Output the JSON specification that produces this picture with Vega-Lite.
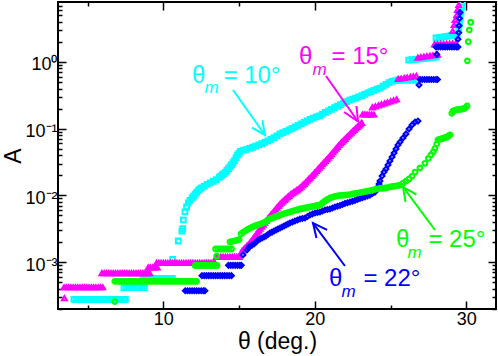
{
"$schema": "https://vega.github.io/schema/vega-lite/v6.json",
"width": 438, "height": 307,
"autosize": {"type": "none"},
"padding": {"left": 58, "top": 2, "right": 2, "bottom": 47},
"background": "white",
"config": {"view": {"stroke": "black", "strokeWidth": 2}, "font": "Liberation Sans",
 "axis": {"labelFont": "Liberation Sans", "titleFont": "Liberation Sans", "labelColor": "black", "titleColor": "black", "tickColor": "black", "grid": false, "domain": false, "labelOverlap": false, "titleFontWeight": "normal"}},
"datasets": {
"pts": [
{"series":"c","theta":4.1,"A":2.77e-4},{"series":"c","theta":4.25,"A":2.77e-4},{"series":"c","theta":4.4,"A":2.77e-4},{"series":"c","theta":4.55,"A":2.77e-4},{"series":"c","theta":4.7,"A":2.77e-4},{"series":"c","theta":4.85,"A":2.77e-4},{"series":"c","theta":5.0,"A":2.77e-4},{"series":"c","theta":5.15,"A":2.77e-4},{"series":"c","theta":5.3,"A":2.77e-4},{"series":"c","theta":5.45,"A":2.77e-4},{"series":"c","theta":5.6,"A":2.77e-4},{"series":"c","theta":5.75,"A":2.77e-4},{"series":"c","theta":5.9,"A":2.77e-4},{"series":"c","theta":6.05,"A":2.77e-4},{"series":"c","theta":6.2,"A":2.77e-4},{"series":"c","theta":6.35,"A":2.77e-4},{"series":"c","theta":6.5,"A":2.77e-4},{"series":"c","theta":6.65,"A":2.77e-4},{"series":"c","theta":6.8,"A":2.77e-4},{"series":"c","theta":6.95,"A":2.77e-4},{"series":"c","theta":7.1,"A":2.77e-4},{"series":"c","theta":7.25,"A":2.77e-4},{"series":"c","theta":7.4,"A":2.77e-4},{"series":"c","theta":7.5,"A":2.77e-4},
{"series":"c","theta":7.4,"A":4.13e-4},{"series":"c","theta":7.55,"A":4.13e-4},{"series":"c","theta":7.7,"A":4.13e-4},{"series":"c","theta":7.85,"A":4.13e-4},{"series":"c","theta":8.0,"A":4.13e-4},{"series":"c","theta":8.15,"A":4.13e-4},{"series":"c","theta":8.3,"A":4.13e-4},{"series":"c","theta":8.45,"A":4.13e-4},{"series":"c","theta":8.6,"A":4.13e-4},{"series":"c","theta":8.75,"A":4.13e-4},
{"series":"c","theta":8.65,"A":5.68e-4},{"series":"c","theta":8.8,"A":5.68e-4},{"series":"c","theta":8.95,"A":5.68e-4},{"series":"c","theta":9.1,"A":5.68e-4},{"series":"c","theta":9.25,"A":5.68e-4},{"series":"c","theta":9.4,"A":5.68e-4},{"series":"c","theta":9.55,"A":5.68e-4},{"series":"c","theta":9.7,"A":5.68e-4},{"series":"c","theta":9.85,"A":5.68e-4},{"series":"c","theta":10.0,"A":5.68e-4},{"series":"c","theta":10.15,"A":5.68e-4},{"series":"c","theta":10.3,"A":5.68e-4},{"series":"c","theta":10.45,"A":5.68e-4},{"series":"c","theta":10.6,"A":5.68e-4},
{"series":"c","theta":10.62,"A":1.10e-3},{"series":"c","theta":10.99,"A":2.07e-3},{"series":"c","theta":11.23,"A":2.92e-3},{"series":"c","theta":11.28,"A":3.17e-3},{"series":"c","theta":11.32,"A":4.28e-3},{"series":"c","theta":11.43,"A":5.64e-3},{"series":"c","theta":11.54,"A":6.70e-3},{"series":"c","theta":11.65,"A":7.69e-3},{"series":"c","theta":11.76,"A":8.39e-3},
{"series":"c","theta":11.9,"A":9.18e-3},{"series":"c","theta":12.0,"A":9.77e-3},{"series":"c","theta":12.1,"A":1.04e-2},{"series":"c","theta":12.2,"A":1.11e-2},{"series":"c","theta":12.3,"A":1.18e-2},{"series":"c","theta":12.4,"A":1.24e-2},{"series":"c","theta":12.5,"A":1.30e-2},{"series":"c","theta":12.7,"A":1.37e-2},{"series":"c","theta":12.9,"A":1.46e-2},{"series":"c","theta":13.1,"A":1.54e-2},{"series":"c","theta":13.3,"A":1.63e-2},{"series":"c","theta":13.5,"A":1.72e-2},{"series":"c","theta":13.7,"A":1.87e-2},{"series":"c","theta":13.8,"A":1.95e-2},{"series":"c","theta":13.9,"A":2.04e-2},{"series":"c","theta":14.0,"A":2.12e-2},{"series":"c","theta":14.1,"A":2.21e-2},{"series":"c","theta":14.2,"A":2.36e-2},{"series":"c","theta":14.3,"A":2.51e-2},{"series":"c","theta":14.4,"A":2.68e-2},{"series":"c","theta":14.5,"A":2.87e-2},{"series":"c","theta":14.6,"A":3.09e-2},{"series":"c","theta":14.7,"A":3.32e-2},{"series":"c","theta":14.8,"A":3.67e-2},{"series":"c","theta":14.9,"A":4.05e-2},{"series":"c","theta":15.0,"A":4.30e-2},{"series":"c","theta":15.1,"A":4.56e-2},{"series":"c","theta":15.3,"A":4.76e-2},{"series":"c","theta":15.5,"A":4.91e-2},{"series":"c","theta":15.7,"A":5.07e-2},{"series":"c","theta":15.9,"A":5.27e-2},{"series":"c","theta":16.1,"A":5.48e-2},{"series":"c","theta":16.3,"A":5.70e-2},{"series":"c","theta":16.5,"A":5.96e-2},{"series":"c","theta":16.7,"A":6.25e-2},{"series":"c","theta":16.9,"A":6.56e-2},{"series":"c","theta":17.1,"A":6.90e-2},{"series":"c","theta":17.3,"A":7.35e-2},{"series":"c","theta":17.5,"A":7.83e-2},{"series":"c","theta":17.7,"A":8.34e-2},{"series":"c","theta":17.9,"A":8.73e-2},{"series":"c","theta":18.1,"A":9.14e-2},{"series":"c","theta":18.3,"A":9.59e-2},{"series":"c","theta":18.5,"A":0.101},{"series":"c","theta":18.7,"A":0.106},{"series":"c","theta":18.9,"A":0.112},{"series":"c","theta":19.1,"A":0.118},{"series":"c","theta":19.3,"A":0.124},{"series":"c","theta":19.5,"A":0.131},{"series":"c","theta":19.7,"A":0.138},{"series":"c","theta":19.9,"A":0.144},{"series":"c","theta":20.1,"A":0.150},{"series":"c","theta":20.3,"A":0.156},{"series":"c","theta":20.5,"A":0.165},{"series":"c","theta":20.7,"A":0.175},{"series":"c","theta":20.9,"A":0.185},{"series":"c","theta":21.1,"A":0.195},{"series":"c","theta":21.3,"A":0.206},{"series":"c","theta":21.5,"A":0.217},{"series":"c","theta":21.7,"A":0.229},{"series":"c","theta":21.9,"A":0.241},{"series":"c","theta":22.1,"A":0.254},{"series":"c","theta":22.3,"A":0.268},{"series":"c","theta":22.5,"A":0.278},{"series":"c","theta":22.7,"A":0.288},{"series":"c","theta":22.9,"A":0.300},{"series":"c","theta":23.1,"A":0.313},{"series":"c","theta":23.3,"A":0.328},{"series":"c","theta":23.5,"A":0.344},{"series":"c","theta":23.7,"A":0.359},{"series":"c","theta":23.9,"A":0.375},{"series":"c","theta":24.1,"A":0.391},{"series":"c","theta":24.3,"A":0.407},{"series":"c","theta":24.5,"A":0.434},{"series":"c","theta":24.7,"A":0.462},{"series":"c","theta":24.9,"A":0.492},{"series":"c","theta":25.1,"A":0.512},{"series":"c","theta":25.3,"A":0.527},
{"series":"c","theta":25.5,"A":0.537},{"series":"c","theta":25.7,"A":0.537},{"series":"c","theta":25.9,"A":0.537},{"series":"c","theta":26.1,"A":0.537},{"series":"c","theta":26.3,"A":0.537},{"series":"c","theta":26.5,"A":0.537},{"series":"c","theta":26.7,"A":0.537},
{"series":"c","theta":26.2,"A":1.07},{"series":"c","theta":26.4,"A":1.08},{"series":"c","theta":26.6,"A":1.09},{"series":"c","theta":26.8,"A":1.10},{"series":"c","theta":27.0,"A":1.11},{"series":"c","theta":27.2,"A":1.12},{"series":"c","theta":27.4,"A":1.14},{"series":"c","theta":27.6,"A":1.15},{"series":"c","theta":27.8,"A":1.17},{"series":"c","theta":28.0,"A":1.18},
{"series":"c","theta":28.0,"A":2.29},{"series":"c","theta":28.2,"A":2.32},{"series":"c","theta":28.4,"A":2.36},{"series":"c","theta":28.6,"A":2.40},{"series":"c","theta":28.8,"A":2.44},{"series":"c","theta":29.0,"A":2.48},{"series":"c","theta":29.2,"A":2.51},{"series":"c","theta":29.4,"A":2.54},
{"series":"c","theta":29.5,"A":3.02},{"series":"c","theta":29.55,"A":3.72},{"series":"c","theta":29.6,"A":4.57},{"series":"c","theta":29.65,"A":5.62},{"series":"c","theta":29.7,"A":6.68},{"series":"c","theta":29.75,"A":7.67},

{"series":"m","theta":3.47,"A":2.87e-4},
{"series":"m","theta":3.45,"A":4.19e-4},{"series":"m","theta":3.6,"A":4.19e-4},{"series":"m","theta":3.75,"A":4.19e-4},{"series":"m","theta":3.9,"A":4.19e-4},{"series":"m","theta":4.05,"A":4.19e-4},{"series":"m","theta":4.2,"A":4.19e-4},{"series":"m","theta":4.35,"A":4.19e-4},{"series":"m","theta":4.5,"A":4.19e-4},{"series":"m","theta":4.65,"A":4.19e-4},{"series":"m","theta":4.8,"A":4.19e-4},{"series":"m","theta":4.95,"A":4.19e-4},{"series":"m","theta":5.1,"A":4.19e-4},{"series":"m","theta":5.25,"A":4.19e-4},{"series":"m","theta":5.4,"A":4.19e-4},{"series":"m","theta":5.55,"A":4.19e-4},{"series":"m","theta":5.7,"A":4.19e-4},{"series":"m","theta":5.85,"A":4.19e-4},{"series":"m","theta":6.0,"A":4.19e-4},
{"series":"m","theta":5.95,"A":6.85e-4},{"series":"m","theta":6.1,"A":6.85e-4},{"series":"m","theta":6.25,"A":6.85e-4},{"series":"m","theta":6.4,"A":6.85e-4},{"series":"m","theta":6.55,"A":6.85e-4},{"series":"m","theta":6.7,"A":6.85e-4},{"series":"m","theta":6.85,"A":6.85e-4},{"series":"m","theta":7.0,"A":6.85e-4},{"series":"m","theta":7.15,"A":6.85e-4},{"series":"m","theta":7.3,"A":6.85e-4},{"series":"m","theta":7.45,"A":6.85e-4},{"series":"m","theta":7.6,"A":6.85e-4},{"series":"m","theta":7.75,"A":6.85e-4},{"series":"m","theta":7.9,"A":6.85e-4},{"series":"m","theta":8.05,"A":6.85e-4},{"series":"m","theta":8.2,"A":6.85e-4},{"series":"m","theta":8.35,"A":6.85e-4},{"series":"m","theta":8.5,"A":6.85e-4},{"series":"m","theta":8.65,"A":6.85e-4},{"series":"m","theta":8.8,"A":6.85e-4},{"series":"m","theta":8.95,"A":6.85e-4},{"series":"m","theta":9.1,"A":6.85e-4},
{"series":"m","theta":9.0,"A":8.30e-4},{"series":"m","theta":9.15,"A":8.30e-4},{"series":"m","theta":9.3,"A":8.30e-4},{"series":"m","theta":9.45,"A":8.30e-4},{"series":"m","theta":9.6,"A":8.30e-4},
{"series":"m","theta":9.55,"A":9.70e-4},{"series":"m","theta":9.7,"A":9.70e-4},{"series":"m","theta":9.85,"A":9.70e-4},{"series":"m","theta":10.0,"A":9.70e-4},{"series":"m","theta":10.15,"A":9.70e-4},{"series":"m","theta":10.3,"A":9.70e-4},{"series":"m","theta":10.45,"A":9.70e-4},{"series":"m","theta":10.6,"A":9.70e-4},{"series":"m","theta":10.75,"A":9.70e-4},{"series":"m","theta":10.9,"A":9.70e-4},{"series":"m","theta":11.05,"A":9.70e-4},{"series":"m","theta":11.2,"A":9.70e-4},{"series":"m","theta":11.35,"A":9.70e-4},{"series":"m","theta":11.5,"A":9.70e-4},{"series":"m","theta":11.65,"A":9.70e-4},{"series":"m","theta":11.8,"A":9.70e-4},{"series":"m","theta":11.95,"A":9.70e-4},{"series":"m","theta":12.1,"A":9.70e-4},{"series":"m","theta":12.25,"A":9.70e-4},{"series":"m","theta":12.4,"A":9.70e-4},{"series":"m","theta":12.55,"A":9.70e-4},{"series":"m","theta":12.7,"A":9.70e-4},{"series":"m","theta":12.85,"A":9.70e-4},{"series":"m","theta":13.0,"A":9.70e-4},{"series":"m","theta":13.15,"A":9.70e-4},{"series":"m","theta":13.3,"A":9.70e-4},{"series":"m","theta":13.4,"A":9.70e-4},
{"series":"m","theta":13.5,"A":1.20e-3},{"series":"m","theta":13.65,"A":1.20e-3},{"series":"m","theta":13.8,"A":1.20e-3},{"series":"m","theta":13.95,"A":1.20e-3},{"series":"m","theta":14.1,"A":1.20e-3},{"series":"m","theta":14.25,"A":1.20e-3},{"series":"m","theta":14.4,"A":1.20e-3},{"series":"m","theta":14.55,"A":1.20e-3},{"series":"m","theta":14.7,"A":1.20e-3},{"series":"m","theta":14.85,"A":1.20e-3},{"series":"m","theta":15.0,"A":1.20e-3},
{"series":"m","theta":15.2,"A":1.47e-3},{"series":"m","theta":15.3,"A":1.55e-3},{"series":"m","theta":15.4,"A":1.63e-3},{"series":"m","theta":15.5,"A":1.72e-3},{"series":"m","theta":15.6,"A":1.81e-3},{"series":"m","theta":15.7,"A":1.93e-3},{"series":"m","theta":15.8,"A":2.05e-3},{"series":"m","theta":15.9,"A":2.20e-3},{"series":"m","theta":16.0,"A":2.37e-3},{"series":"m","theta":16.1,"A":2.55e-3},{"series":"m","theta":16.2,"A":2.75e-3},{"series":"m","theta":16.3,"A":2.96e-3},{"series":"m","theta":16.4,"A":3.18e-3},{"series":"m","theta":16.5,"A":3.40e-3},{"series":"m","theta":16.6,"A":3.64e-3},{"series":"m","theta":16.7,"A":3.90e-3},{"series":"m","theta":16.8,"A":4.17e-3},{"series":"m","theta":16.9,"A":4.46e-3},{"series":"m","theta":17.0,"A":4.78e-3},{"series":"m","theta":17.1,"A":5.09e-3},{"series":"m","theta":17.2,"A":5.43e-3},{"series":"m","theta":17.3,"A":5.78e-3},{"series":"m","theta":17.4,"A":6.15e-3},{"series":"m","theta":17.5,"A":6.55e-3},{"series":"m","theta":17.6,"A":6.98e-3},{"series":"m","theta":17.7,"A":7.37e-3},{"series":"m","theta":17.8,"A":7.78e-3},{"series":"m","theta":17.9,"A":8.16e-3},{"series":"m","theta":18.0,"A":8.55e-3},{"series":"m","theta":18.1,"A":8.96e-3},{"series":"m","theta":18.2,"A":9.40e-3},{"series":"m","theta":18.3,"A":9.84e-3},{"series":"m","theta":18.4,"A":1.03e-2},{"series":"m","theta":18.5,"A":1.07e-2},{"series":"m","theta":18.6,"A":1.11e-2},{"series":"m","theta":18.7,"A":1.15e-2},{"series":"m","theta":18.8,"A":1.19e-2},{"series":"m","theta":18.9,"A":1.23e-2},{"series":"m","theta":19.0,"A":1.28e-2},{"series":"m","theta":19.1,"A":1.35e-2},{"series":"m","theta":19.2,"A":1.42e-2},{"series":"m","theta":19.3,"A":1.49e-2},{"series":"m","theta":19.4,"A":1.57e-2},{"series":"m","theta":19.5,"A":1.66e-2},{"series":"m","theta":19.6,"A":1.75e-2},{"series":"m","theta":19.7,"A":1.85e-2},{"series":"m","theta":19.8,"A":1.95e-2},{"series":"m","theta":19.9,"A":2.07e-2},{"series":"m","theta":20.0,"A":2.19e-2},{"series":"m","theta":20.1,"A":2.32e-2},{"series":"m","theta":20.2,"A":2.46e-2},{"series":"m","theta":20.3,"A":2.61e-2},{"series":"m","theta":20.4,"A":2.76e-2},{"series":"m","theta":20.5,"A":2.93e-2},{"series":"m","theta":20.6,"A":3.10e-2},{"series":"m","theta":20.7,"A":3.28e-2},{"series":"m","theta":20.8,"A":3.48e-2},{"series":"m","theta":20.9,"A":3.68e-2},{"series":"m","theta":21.0,"A":3.90e-2},{"series":"m","theta":21.1,"A":4.16e-2},{"series":"m","theta":21.2,"A":4.43e-2},{"series":"m","theta":21.3,"A":4.71e-2},{"series":"m","theta":21.4,"A":5.01e-2},{"series":"m","theta":21.5,"A":5.34e-2},{"series":"m","theta":21.6,"A":5.69e-2},{"series":"m","theta":21.7,"A":6.01e-2},{"series":"m","theta":21.8,"A":6.35e-2},{"series":"m","theta":21.9,"A":6.69e-2},{"series":"m","theta":22.0,"A":7.05e-2},{"series":"m","theta":22.1,"A":7.43e-2},{"series":"m","theta":22.2,"A":7.83e-2},{"series":"m","theta":22.3,"A":8.25e-2},{"series":"m","theta":22.4,"A":8.69e-2},{"series":"m","theta":22.5,"A":9.14e-2},{"series":"m","theta":22.6,"A":9.62e-2},{"series":"m","theta":22.7,"A":0.101},{"series":"m","theta":22.8,"A":0.106},{"series":"m","theta":22.9,"A":0.111},{"series":"m","theta":23.0,"A":0.116},{"series":"m","theta":23.1,"A":0.122},
{"series":"m","theta":23.15,"A":0.163},{"series":"m","theta":23.3,"A":0.163},{"series":"m","theta":23.45,"A":0.163},{"series":"m","theta":23.6,"A":0.163},{"series":"m","theta":23.75,"A":0.163},{"series":"m","theta":23.9,"A":0.163},
{"series":"m","theta":23.8,"A":0.209},{"series":"m","theta":24.0,"A":0.216},{"series":"m","theta":24.2,"A":0.223},{"series":"m","theta":24.4,"A":0.231},{"series":"m","theta":24.6,"A":0.239},{"series":"m","theta":24.8,"A":0.248},{"series":"m","theta":25.0,"A":0.256},{"series":"m","theta":25.2,"A":0.265},{"series":"m","theta":25.4,"A":0.275},
{"series":"m","theta":25.5,"A":0.556},{"series":"m","theta":25.7,"A":0.565},{"series":"m","theta":25.9,"A":0.575},{"series":"m","theta":26.1,"A":0.585},{"series":"m","theta":26.3,"A":0.596},{"series":"m","theta":26.5,"A":0.606},{"series":"m","theta":26.7,"A":0.617},
{"series":"m","theta":26.8,"A":1.16},{"series":"m","theta":27.0,"A":1.18},{"series":"m","theta":27.2,"A":1.20},{"series":"m","theta":27.4,"A":1.22},{"series":"m","theta":27.6,"A":1.24},{"series":"m","theta":27.8,"A":1.26},{"series":"m","theta":28.0,"A":1.28},{"series":"m","theta":28.1,"A":1.29},
{"series":"m","theta":27.9,"A":1.84},{"series":"m","theta":28.1,"A":1.85},{"series":"m","theta":28.3,"A":1.86},{"series":"m","theta":28.5,"A":1.86},{"series":"m","theta":28.7,"A":1.87},{"series":"m","theta":28.9,"A":1.88},{"series":"m","theta":29.1,"A":1.89},{"series":"m","theta":29.3,"A":1.90},
{"series":"m","theta":29.10,"A":2.92},{"series":"m","theta":29.19,"A":3.59},{"series":"m","theta":29.26,"A":4.27},{"series":"m","theta":29.37,"A":5.07},{"series":"m","theta":29.41,"A":6.03},{"series":"m","theta":29.50,"A":7.16},

{"series":"b","theta":11.45,"A":3.72e-4},{"series":"b","theta":11.6,"A":3.72e-4},{"series":"b","theta":11.75,"A":3.72e-4},{"series":"b","theta":11.9,"A":3.72e-4},{"series":"b","theta":12.05,"A":3.72e-4},{"series":"b","theta":12.2,"A":3.72e-4},{"series":"b","theta":12.35,"A":3.72e-4},{"series":"b","theta":12.5,"A":3.72e-4},{"series":"b","theta":12.65,"A":3.72e-4},{"series":"b","theta":12.75,"A":3.72e-4},
{"series":"b","theta":12.55,"A":6.25e-4},{"series":"b","theta":12.7,"A":6.25e-4},{"series":"b","theta":12.85,"A":6.25e-4},{"series":"b","theta":13.0,"A":6.25e-4},{"series":"b","theta":13.15,"A":6.25e-4},{"series":"b","theta":13.3,"A":6.25e-4},{"series":"b","theta":13.45,"A":6.25e-4},{"series":"b","theta":13.6,"A":6.25e-4},{"series":"b","theta":13.75,"A":6.25e-4},{"series":"b","theta":13.9,"A":6.25e-4},{"series":"b","theta":14.05,"A":6.25e-4},{"series":"b","theta":14.2,"A":6.25e-4},{"series":"b","theta":14.35,"A":6.25e-4},{"series":"b","theta":14.5,"A":6.25e-4},
{"series":"b","theta":14.3,"A":8.95e-4},{"series":"b","theta":14.45,"A":8.95e-4},{"series":"b","theta":14.6,"A":8.95e-4},{"series":"b","theta":14.75,"A":8.95e-4},{"series":"b","theta":14.9,"A":8.95e-4},{"series":"b","theta":15.05,"A":8.95e-4},{"series":"b","theta":15.15,"A":8.95e-4},
{"series":"b","theta":15.26,"A":1.28e-3},{"series":"b","theta":15.52,"A":1.52e-3},{"series":"b","theta":15.62,"A":1.63e-3},{"series":"b","theta":15.72,"A":1.74e-3},{"series":"b","theta":15.855,"A":1.80e-3},{"series":"b","theta":15.99,"A":1.87e-3},{"series":"b","theta":16.12,"A":2.00e-3},{"series":"b","theta":16.25,"A":2.14e-3},{"series":"b","theta":16.385,"A":2.22e-3},{"series":"b","theta":16.52,"A":2.30e-3},{"series":"b","theta":16.65,"A":2.38e-3},{"series":"b","theta":16.78,"A":2.46e-3},{"series":"b","theta":16.91,"A":2.59e-3},{"series":"b","theta":17.04,"A":2.73e-3},{"series":"b","theta":17.175,"A":2.82e-3},{"series":"b","theta":17.31,"A":2.92e-3},{"series":"b","theta":17.44,"A":3.03e-3},{"series":"b","theta":17.57,"A":3.13e-3},{"series":"b","theta":17.705,"A":3.24e-3},{"series":"b","theta":17.84,"A":3.36e-3},{"series":"b","theta":17.97,"A":3.48e-3},{"series":"b","theta":18.10,"A":3.60e-3},{"series":"b","theta":18.23,"A":3.72e-3},{"series":"b","theta":18.36,"A":3.85e-3},{"series":"b","theta":18.525,"A":3.99e-3},{"series":"b","theta":18.69,"A":4.13e-3},{"series":"b","theta":18.855,"A":4.28e-3},{"series":"b","theta":19.02,"A":4.43e-3},{"series":"b","theta":19.185,"A":4.50e-3},{"series":"b","theta":19.35,"A":4.58e-3},{"series":"b","theta":19.515,"A":4.82e-3},{"series":"b","theta":19.68,"A":5.08e-3},{"series":"b","theta":19.845,"A":5.26e-3},{"series":"b","theta":20.01,"A":5.45e-3},{"series":"b","theta":20.175,"A":5.54e-3},{"series":"b","theta":20.34,"A":5.64e-3},{"series":"b","theta":20.505,"A":5.83e-3},{"series":"b","theta":20.67,"A":6.04e-3},{"series":"b","theta":20.835,"A":6.14e-3},{"series":"b","theta":21.00,"A":6.25e-3},{"series":"b","theta":21.165,"A":6.47e-3},{"series":"b","theta":21.33,"A":6.70e-3},{"series":"b","theta":21.495,"A":6.88e-3},{"series":"b","theta":21.66,"A":7.06e-3},{"series":"b","theta":21.825,"A":7.31e-3},{"series":"b","theta":21.99,"A":7.57e-3},{"series":"b","theta":22.155,"A":7.76e-3},{"series":"b","theta":22.32,"A":7.96e-3},{"series":"b","theta":22.485,"A":8.17e-3},{"series":"b","theta":22.65,"A":8.39e-3},{"series":"b","theta":22.815,"A":8.69e-3},{"series":"b","theta":22.98,"A":8.99e-3},{"series":"b","theta":23.145,"A":9.23e-3},{"series":"b","theta":23.31,"A":9.46e-3},{"series":"b","theta":23.475,"A":9.79e-3},{"series":"b","theta":23.64,"A":1.01e-2},{"series":"b","theta":23.805,"A":1.07e-2},{"series":"b","theta":23.97,"A":1.12e-2},{"series":"b","theta":24.07,"A":1.23e-2},{"series":"b","theta":24.17,"A":1.34e-2},{"series":"b","theta":24.24,"A":1.48e-2},{"series":"b","theta":24.30,"A":1.64e-2},{"series":"b","theta":24.44,"A":1.95e-2},{"series":"b","theta":24.57,"A":2.24e-2},{"series":"b","theta":24.70,"A":2.49e-2},{"series":"b","theta":24.83,"A":2.86e-2},{"series":"b","theta":24.96,"A":3.28e-2},{"series":"b","theta":25.10,"A":3.77e-2},{"series":"b","theta":25.23,"A":4.32e-2},{"series":"b","theta":25.36,"A":4.97e-2},{"series":"b","theta":25.49,"A":5.70e-2},{"series":"b","theta":25.63,"A":6.32e-2},{"series":"b","theta":25.82,"A":7.26e-2},{"series":"b","theta":26.02,"A":8.34e-2},{"series":"b","theta":26.22,"A":9.90e-2},{"series":"b","theta":26.42,"A":0.114},{"series":"b","theta":26.62,"A":0.126},{"series":"b","theta":26.81,"A":0.130},
{"series":"b","theta":26.88,"A":0.452},
{"series":"b","theta":26.95,"A":0.547},{"series":"b","theta":27.1,"A":0.547},{"series":"b","theta":27.25,"A":0.547},{"series":"b","theta":27.4,"A":0.547},{"series":"b","theta":27.55,"A":0.547},{"series":"b","theta":27.7,"A":0.547},{"series":"b","theta":27.85,"A":0.547},{"series":"b","theta":28.0,"A":0.547},{"series":"b","theta":28.1,"A":0.547},
{"series":"b","theta":28.05,"A":1.30},
{"series":"b","theta":28.0,"A":1.68},{"series":"b","theta":28.15,"A":1.68},{"series":"b","theta":28.3,"A":1.68},{"series":"b","theta":28.45,"A":1.68},{"series":"b","theta":28.6,"A":1.68},{"series":"b","theta":28.75,"A":1.68},{"series":"b","theta":28.9,"A":1.68},{"series":"b","theta":29.05,"A":1.68},{"series":"b","theta":29.2,"A":1.68},{"series":"b","theta":29.35,"A":1.68},{"series":"b","theta":29.45,"A":1.68},
{"series":"b","theta":29.45,"A":2.2},{"series":"b","theta":29.5,"A":2.75},{"series":"b","theta":29.52,"A":3.5},{"series":"b","theta":29.55,"A":4.5},{"series":"b","theta":29.58,"A":5.5},

{"series":"g","theta":6.80,"A":2.55e-4},
{"series":"g","theta":6.8,"A":5.15e-4},{"series":"g","theta":6.95,"A":5.15e-4},{"series":"g","theta":7.1,"A":5.15e-4},{"series":"g","theta":7.25,"A":5.15e-4},{"series":"g","theta":7.4,"A":5.15e-4},{"series":"g","theta":7.55,"A":5.15e-4},{"series":"g","theta":7.7,"A":5.15e-4},{"series":"g","theta":7.85,"A":5.15e-4},{"series":"g","theta":8.0,"A":5.15e-4},{"series":"g","theta":8.15,"A":5.15e-4},{"series":"g","theta":8.3,"A":5.15e-4},{"series":"g","theta":8.45,"A":5.15e-4},{"series":"g","theta":8.6,"A":5.15e-4},{"series":"g","theta":8.75,"A":5.15e-4},{"series":"g","theta":8.9,"A":5.15e-4},{"series":"g","theta":9.05,"A":5.15e-4},{"series":"g","theta":9.2,"A":5.15e-4},{"series":"g","theta":9.35,"A":5.15e-4},{"series":"g","theta":9.5,"A":5.15e-4},{"series":"g","theta":9.65,"A":5.15e-4},{"series":"g","theta":9.8,"A":5.15e-4},{"series":"g","theta":9.95,"A":5.15e-4},{"series":"g","theta":10.1,"A":5.15e-4},{"series":"g","theta":10.25,"A":5.15e-4},{"series":"g","theta":10.4,"A":5.15e-4},{"series":"g","theta":10.55,"A":5.15e-4},{"series":"g","theta":10.7,"A":5.15e-4},{"series":"g","theta":10.85,"A":5.15e-4},{"series":"g","theta":11.0,"A":5.15e-4},{"series":"g","theta":11.15,"A":5.15e-4},{"series":"g","theta":11.3,"A":5.15e-4},{"series":"g","theta":11.45,"A":5.15e-4},{"series":"g","theta":11.6,"A":5.15e-4},{"series":"g","theta":11.75,"A":5.15e-4},{"series":"g","theta":11.9,"A":5.15e-4},{"series":"g","theta":12.05,"A":5.15e-4},{"series":"g","theta":12.2,"A":5.15e-4},
{"series":"g","theta":12.1,"A":8.89e-4},{"series":"g","theta":12.25,"A":8.89e-4},{"series":"g","theta":12.4,"A":8.89e-4},{"series":"g","theta":12.55,"A":8.89e-4},{"series":"g","theta":12.7,"A":8.89e-4},{"series":"g","theta":12.85,"A":8.89e-4},{"series":"g","theta":13.0,"A":8.89e-4},{"series":"g","theta":13.15,"A":8.89e-4},{"series":"g","theta":13.3,"A":8.89e-4},{"series":"g","theta":13.45,"A":8.89e-4},{"series":"g","theta":13.55,"A":8.89e-4},
{"series":"g","theta":13.52,"A":1.23e-3},
{"series":"g","theta":13.45,"A":1.57e-3},{"series":"g","theta":13.6,"A":1.57e-3},{"series":"g","theta":13.75,"A":1.57e-3},{"series":"g","theta":13.9,"A":1.57e-3},{"series":"g","theta":14.05,"A":1.57e-3},{"series":"g","theta":14.2,"A":1.57e-3},{"series":"g","theta":14.35,"A":1.57e-3},{"series":"g","theta":14.5,"A":1.57e-3},
{"series":"g","theta":14.4,"A":2.00e-3},{"series":"g","theta":14.55,"A":2.04e-3},{"series":"g","theta":14.7,"A":2.08e-3},{"series":"g","theta":14.85,"A":2.13e-3},{"series":"g","theta":15.0,"A":2.17e-3},
{"series":"g","theta":15.13,"A":2.64e-3},{"series":"g","theta":15.26,"A":2.78e-3},{"series":"g","theta":15.39,"A":2.92e-3},{"series":"g","theta":15.555,"A":3.08e-3},{"series":"g","theta":15.72,"A":3.24e-3},{"series":"g","theta":15.885,"A":3.36e-3},{"series":"g","theta":16.05,"A":3.48e-3},{"series":"g","theta":16.215,"A":3.60e-3},{"series":"g","theta":16.38,"A":3.72e-3},{"series":"g","theta":16.545,"A":3.85e-3},{"series":"g","theta":16.71,"A":3.99e-3},{"series":"g","theta":16.875,"A":4.20e-3},{"series":"g","theta":17.04,"A":4.43e-3},{"series":"g","theta":17.205,"A":4.58e-3},{"series":"g","theta":17.37,"A":4.74e-3},{"series":"g","theta":17.535,"A":4.91e-3},{"series":"g","theta":17.70,"A":5.08e-3},{"series":"g","theta":17.865,"A":5.22e-3},{"series":"g","theta":18.03,"A":5.36e-3},{"series":"g","theta":18.195,"A":5.50e-3},{"series":"g","theta":18.36,"A":5.64e-3},{"series":"g","theta":18.525,"A":5.79e-3},{"series":"g","theta":18.69,"A":5.94e-3},{"series":"g","theta":18.855,"A":6.09e-3},{"series":"g","theta":19.02,"A":6.25e-3},{"series":"g","theta":19.185,"A":6.36e-3},{"series":"g","theta":19.35,"A":6.47e-3},{"series":"g","theta":19.515,"A":6.58e-3},{"series":"g","theta":19.68,"A":6.70e-3},{"series":"g","theta":19.845,"A":6.81e-3},{"series":"g","theta":20.01,"A":6.93e-3},{"series":"g","theta":20.175,"A":7.05e-3},{"series":"g","theta":20.34,"A":7.18e-3},{"series":"g","theta":20.505,"A":7.69e-3},{"series":"g","theta":20.67,"A":8.24e-3},{"series":"g","theta":20.835,"A":8.68e-3},{"series":"g","theta":21.00,"A":9.14e-3},{"series":"g","theta":21.165,"A":9.39e-3},{"series":"g","theta":21.33,"A":9.64e-3},{"series":"g","theta":21.495,"A":9.81e-3},{"series":"g","theta":21.66,"A":9.98e-3},{"series":"g","theta":21.825,"A":1.005e-2},{"series":"g","theta":21.99,"A":1.01e-2},{"series":"g","theta":22.155,"A":1.02e-2},{"series":"g","theta":22.32,"A":1.03e-2},{"series":"g","theta":22.485,"A":1.05e-2},{"series":"g","theta":22.65,"A":1.07e-2},{"series":"g","theta":22.815,"A":1.085e-2},{"series":"g","theta":22.98,"A":1.10e-2},{"series":"g","theta":23.145,"A":1.12e-2},{"series":"g","theta":23.31,"A":1.14e-2},{"series":"g","theta":23.475,"A":1.16e-2},{"series":"g","theta":23.64,"A":1.18e-2},{"series":"g","theta":23.805,"A":1.20e-2},{"series":"g","theta":23.97,"A":1.23e-2},{"series":"g","theta":24.135,"A":1.25e-2},{"series":"g","theta":24.30,"A":1.27e-2},{"series":"g","theta":24.465,"A":1.28e-2},{"series":"g","theta":24.63,"A":1.29e-2},{"series":"g","theta":24.795,"A":1.31e-2},{"series":"g","theta":24.96,"A":1.34e-2},{"series":"g","theta":25.13,"A":1.36e-2},{"series":"g","theta":25.30,"A":1.38e-2},{"series":"g","theta":25.465,"A":1.40e-2},{"series":"g","theta":25.63,"A":1.43e-2},{"series":"g","theta":25.82,"A":1.53e-2},{"series":"g","theta":26.02,"A":1.64e-2},{"series":"g","theta":26.22,"A":1.76e-2},{"series":"g","theta":26.42,"A":1.95e-2},{"series":"g","theta":26.62,"A":2.24e-2},
{"series":"g","theta":26.94,"A":2.58e-2},{"series":"g","theta":27.27,"A":3.03e-2},{"series":"g","theta":27.49,"A":3.60e-2},{"series":"g","theta":27.67,"A":4.04e-2},{"series":"g","theta":27.82,"A":4.48e-2},{"series":"g","theta":27.93,"A":5.08e-2},{"series":"g","theta":28.05,"A":5.90e-2},
{"series":"g","theta":28.13,"A":6.78e-2},{"series":"g","theta":28.23,"A":6.90e-2},{"series":"g","theta":28.33,"A":7.01e-2},{"series":"g","theta":28.43,"A":7.13e-2},{"series":"g","theta":28.53,"A":7.26e-2},{"series":"g","theta":28.63,"A":7.38e-2},{"series":"g","theta":28.73,"A":7.51e-2},{"series":"g","theta":28.83,"A":7.78e-2},{"series":"g","theta":28.92,"A":8.05e-2},
{"series":"g","theta":29.04,"A":0.170},
{"series":"g","theta":29.12,"A":0.184},{"series":"g","theta":29.22,"A":0.188},{"series":"g","theta":29.32,"A":0.191},{"series":"g","theta":29.42,"A":0.193},{"series":"g","theta":29.52,"A":0.194},{"series":"g","theta":29.62,"A":0.196},{"series":"g","theta":29.72,"A":0.197},{"series":"g","theta":29.82,"A":0.200},{"series":"g","theta":29.92,"A":0.204},{"series":"g","theta":30.05,"A":0.219},
{"series":"g","theta":30.07,"A":1.04},{"series":"g","theta":30.13,"A":2.01},{"series":"g","theta":30.20,"A":3.02},{"series":"g","theta":30.29,"A":3.94}
],
"labels": [
{"theta":11.89,"A":0.484,"label":"θ","series":"c"},{"theta":13.97,"A":0.484,"label":"= 10°","series":"c"},
{"theta":18.96,"A":0.933,"label":"θ","series":"m"},{"theta":21.10,"A":0.933,"label":"= 15°","series":"m"},
{"theta":20.94,"A":4.31e-4,"label":"θ","series":"b"},{"theta":23.21,"A":4.31e-4,"label":"= 22°","series":"b"},
{"theta":25.36,"A":1.66e-3,"label":"θ","series":"g"},{"theta":27.50,"A":1.66e-3,"label":"= 25°","series":"g"}
],
"subs": [
{"theta":12.72,"A":0.343,"label":"m","series":"c"},
{"theta":19.85,"A":0.638,"label":"m","series":"m"},
{"theta":21.76,"A":3.00e-4,"label":"m","series":"b"},
{"theta":26.12,"A":1.15e-3,"label":"m","series":"g"}
],
"shafts": [
{"series":"c","theta":14.60,"A":0.380,"theta2":16.71,"A2":8.05e-2},
{"series":"m","theta":20.74,"A":0.617,"theta2":22.85,"A2":0.128},
{"series":"b","theta":21.99,"A":8.74e-4,"theta2":19.88,"A2":3.85e-3},
{"series":"g","theta":27.93,"A":3.03e-3,"theta2":25.82,"A2":1.34e-2}
],
"heads": [
{"arrow":"c","k":1,"series":"c","theta":15.85,"A":0.104},{"arrow":"c","k":2,"series":"c","theta":16.71,"A":8.05e-2},{"arrow":"c","k":3,"series":"c","theta":16.54,"A":0.134},
{"arrow":"m","k":1,"series":"m","theta":21.93,"A":0.178},{"arrow":"m","k":2,"series":"m","theta":22.85,"A":0.128},{"arrow":"m","k":3,"series":"m","theta":22.75,"A":0.219},
{"arrow":"b","k":1,"series":"b","theta":20.11,"A":2.30e-3},{"arrow":"b","k":2,"series":"b","theta":19.88,"A":3.85e-3},{"arrow":"b","k":3,"series":"b","theta":20.81,"A":3.03e-3},
{"arrow":"g","k":1,"series":"g","theta":25.99,"A":7.96e-3},{"arrow":"g","k":2,"series":"g","theta":25.82,"A":1.34e-2},{"arrow":"g","k":3,"series":"g","theta":26.71,"A":1.03e-2}
]
},
"layer": [
{
"data": {"name": "pts"},
"mark": {"type": "point", "filled": false, "strokeWidth": 2.1, "size": 22, "clip": true, "opacity": 1},
"encoding": {
"x": {"field": "theta", "type": "quantitative", "scale": {"domain": [3.05, 31.96], "nice": false, "zero": false},
 "axis": {"orient": "bottom", "values": [10, 20, 30], "tickSize": -8, "tickWidth": 1.5, "labelFontSize": 18, "labelPadding": 9, "title": "θ (deg.)", "titleFontSize": 23, "titlePadding": 2}},
"y": {"field": "A", "type": "quantitative", "scale": {"type": "log", "domain": [1.98e-4, 7.93], "nice": false},
 "axis": {"orient": "left", "values": [0.001, 0.01, 0.1, 1], "tickSize": -8, "tickWidth": 1.5, "labelFontSize": 18, "labelPadding": 9, "labelOffset": 3,
  "labelExpr": "'10' + (datum.value > 0.5 ? '⁰' : datum.value > 0.05 ? '⁻¹' : datum.value > 0.005 ? '⁻²' : '⁻³')", "title": "A", "titleFontSize": 23, "titlePadding": -1}},
"color": {"field": "series", "type": "nominal", "scale": {"domain": ["c", "m", "b", "g"], "range": ["#00ffff", "#ff00ff", "#0000ff", "#00ff00"]}, "legend": null},
"shape": {"field": "series", "type": "nominal", "scale": {"domain": ["c", "m", "b", "g"], "range": ["square", "triangle-up", "diamond", "circle"]}, "legend": null}
}
},
{
"data": {"name": "labels"},
"mark": {"type": "text", "align": "left", "baseline": "alphabetic", "fontSize": 24, "font": "Liberation Sans"},
"encoding": {
"x": {"field": "theta", "type": "quantitative", "axis": {"orient": "top", "values": [10, 20, 30], "tickSize": -8, "tickWidth": 1.5, "labels": false, "title": null}},
"y": {"field": "A", "type": "quantitative", "axis": {"orient": "right", "values": [0.001, 0.01, 0.1, 1], "tickSize": -8, "tickWidth": 1.5, "labels": false, "title": null}},
"text": {"field": "label"},
"color": {"field": "series", "type": "nominal", "legend": null}
}
},
{
"data": {"name": "subs"},
"mark": {"type": "text", "align": "left", "baseline": "alphabetic", "fontSize": 17, "fontStyle": "italic", "font": "Liberation Sans"},
"encoding": {
"x": {"field": "theta", "type": "quantitative", "axis": {"orient": "bottom", "values": [5, 15, 25], "tickSize": -4, "tickWidth": 1.5, "labels": false, "title": null}},
"y": {"field": "A", "type": "quantitative", "axis": {"orient": "left", "values": [2e-4,3e-4,4e-4,5e-4,6e-4,7e-4,8e-4,9e-4,2e-3,3e-3,4e-3,5e-3,6e-3,7e-3,8e-3,9e-3,2e-2,3e-2,4e-2,5e-2,6e-2,7e-2,8e-2,9e-2,0.2,0.3,0.4,0.5,0.6,0.7,0.8,0.9,2,3,4,5,6,7], "tickSize": -4, "tickWidth": 1.5, "labels": false, "title": null}},
"text": {"field": "label"},
"color": {"field": "series", "type": "nominal", "legend": null}
}
},
{
"data": {"name": "shafts"},
"mark": {"type": "rule", "strokeWidth": 2},
"encoding": {
"x": {"field": "theta", "type": "quantitative", "axis": {"orient": "top", "values": [5, 15, 25], "tickSize": -4, "tickWidth": 1.5, "labels": false, "title": null}},
"y": {"field": "A", "type": "quantitative", "axis": {"orient": "right", "values": [2e-4,3e-4,4e-4,5e-4,6e-4,7e-4,8e-4,9e-4,2e-3,3e-3,4e-3,5e-3,6e-3,7e-3,8e-3,9e-3,2e-2,3e-2,4e-2,5e-2,6e-2,7e-2,8e-2,9e-2,0.2,0.3,0.4,0.5,0.6,0.7,0.8,0.9,2,3,4,5,6,7], "tickSize": -4, "tickWidth": 1.5, "labels": false, "title": null}},
"x2": {"field": "theta2"},
"y2": {"field": "A2"},
"color": {"field": "series", "type": "nominal", "legend": null}
}
},
{
"data": {"name": "heads"},
"mark": {"type": "line", "strokeWidth": 2, "strokeJoin": "miter"},
"encoding": {
"x": {"field": "theta", "type": "quantitative", "axis": null},
"y": {"field": "A", "type": "quantitative", "axis": null},
"detail": {"field": "arrow"},
"order": {"field": "k", "type": "quantitative"},
"color": {"field": "series", "type": "nominal", "legend": null}
}
}
],
"resolve": {"axis": {"x": "independent", "y": "independent"}}
}
